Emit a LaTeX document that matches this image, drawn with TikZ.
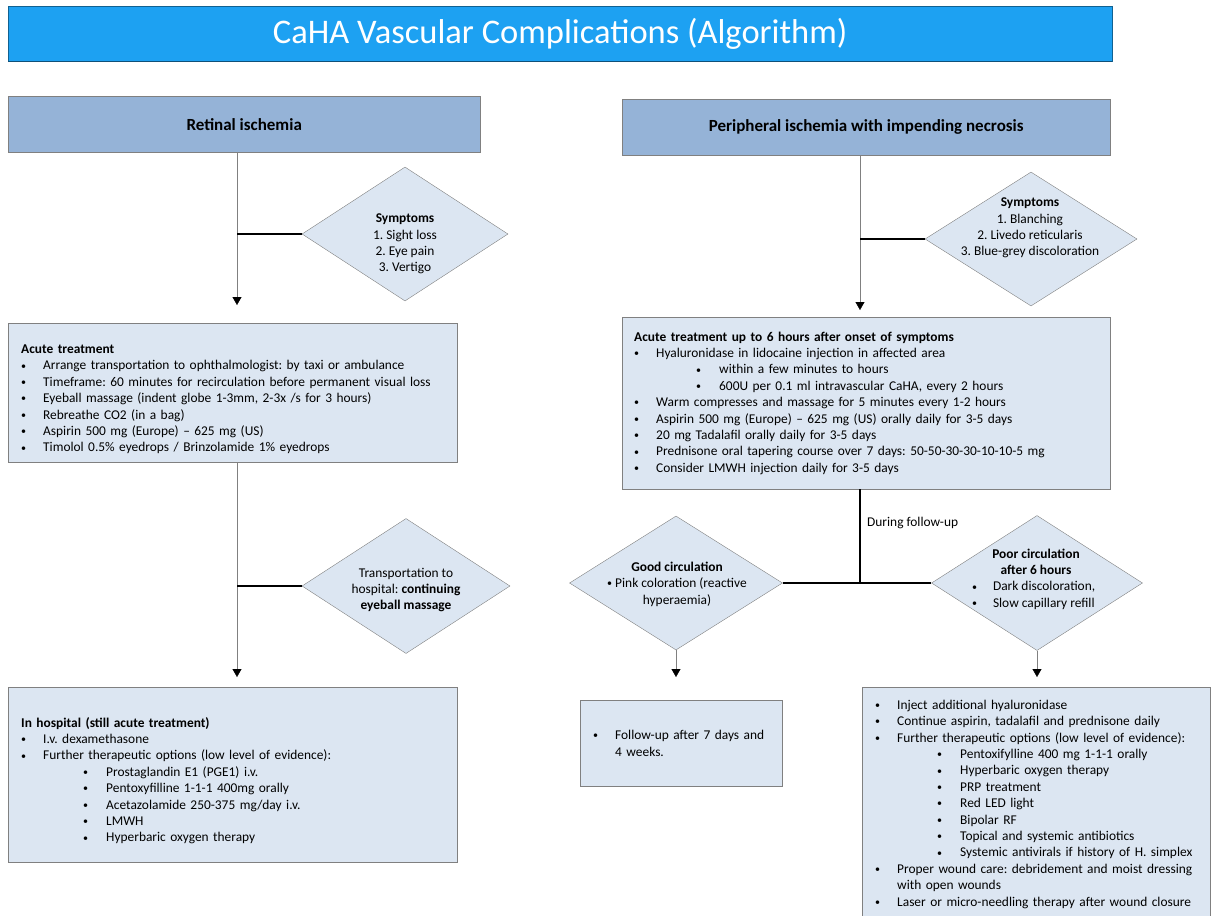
\documentclass[tikz,border=0pt]{standalone}
\usepackage{fontspec}
\setmainfont{Carlito}
\usepackage{tikz}
\usetikzlibrary{shapes.geometric}
\usetikzlibrary{arrows.meta}
\usetikzlibrary{positioning}
\frenchspacing

\definecolor{titleblue}{RGB}{29,161,242}
\definecolor{headblue}{RGB}{149,179,215}
\definecolor{paleblue}{RGB}{220,230,242}
\definecolor{rimgray}{RGB}{128,128,128}

\newcommand{\dotmark}{\raisebox{0.12ex}{\fontsize{10}{10}\selectfont\textbullet}}
\newcommand{\bul}{\makebox[22pt][l]{\dotmark}}
\newcommand{\subbul}{\hspace*{62pt}\makebox[23pt][l]{\dotmark}}

\tikzset{
  body/.style={font=\fontsize{13.4}{16.4}\selectfont},
  titlebar/.style={fill=titleblue, draw=titleblue!60!black, anchor=north west,
    text=white, font=\fontsize{34.5}{38}\selectfont},
  headbox/.style={draw=rimgray, fill=headblue, anchor=north west,
    minimum height=56pt, font=\bfseries\fontsize{17}{20}\selectfont},
  textbox/.style={draw=rimgray, fill=paleblue, anchor=north west,
    align=left, inner xsep=13pt, body},
  choice/.style={diamond, draw=rimgray, fill=paleblue, inner sep=0pt},
  choicetext/.style={align=center, inner sep=0pt, body},
  flow/.style={draw=gray, -{Triangle[width=9pt,length=8pt,black]}},
  spur/.style={draw=black, line width=1.3pt},
}

\begin{document}
\begin{tikzpicture}[x=1pt,y=-1pt]
  \useasboundingbox (0,0) rectangle (1211,916);

  % title
  \node[titlebar, minimum width=1104pt, minimum height=55pt] (title) at (8,6)
    {CaHA Vascular Complications (Algorithm)};
  \draw[titleblue!50!black, line width=1.5pt] (title.south west) -- (title.south east);

  % left column: retinal ischemia
  \coordinate (trunkL) at (237,0);
  \node[headbox, minimum width=472pt] (ret) at (8,96) {Retinal ischemia};
  \node[choice, minimum width=206pt, minimum height=134pt] (sym1) at (405,234) {};
  \node[choicetext] (sym1txt) at (405,244)
    {\textbf{Symptoms}\\1. Sight loss\\2. Eye pain\\3. Vertigo};
  \node[textbox, text width=423pt, minimum height=139pt] (acuteL) at (8,323)
    {\rule{0pt}{22pt}\textbf{Acute treatment}\\
     \bul Arrange transportation to ophthalmologist: by taxi or ambulance\\
     \bul Timeframe: 60 minutes for recirculation before permanent visual loss\\
     \bul Eyeball massage (indent globe 1-3mm, 2-3x /s for 3 hours)\\
     \bul Rebreathe CO2 (in a bag)\\
     \bul Aspirin 500 mg (Europe) -- 625 mg (US)\\
     \bul Timolol 0.5\% eyedrops / Brinzolamide 1\% eyedrops};
  \node[choice, minimum width=208pt, minimum height=135pt] (trans) at (406,586) {};
  \node[choicetext] (transtxt) at (406,590)
    {Transportation to\\hospital: \textbf{continuing}\\\textbf{eyeball massage}};
  \node[textbox, text width=423pt, minimum height=175pt] (hospL) at (8,687)
    {\rule{0pt}{22pt}\textbf{In hospital (still acute treatment)}\\
     \bul I.v. dexamethasone\\
     \bul Further therapeutic options (low level of evidence):\\
     \subbul Prostaglandin E1 (PGE1) i.v.\\
     \subbul Pentoxyfilline 1-1-1 400mg orally\\
     \subbul Acetazolamide 250-375 mg/day i.v.\\
     \subbul LMWH\\
     \subbul Hyperbaric oxygen therapy};

  \draw[flow] (ret.south -| trunkL) -- ([yshift=18pt]acuteL.north -| trunkL);
  \draw[spur] (sym1.west -| trunkL) -- (sym1.west);
  \draw[flow] (acuteL.south -| trunkL) -- ([yshift=10pt]hospL.north -| trunkL);
  \draw[spur] (trans.west -| trunkL) -- (trans.west);

  % right column: peripheral ischemia
  \coordinate (trunkR) at (860,0);
  \node[headbox, minimum width=488pt] (peri) at (622,99)
    {Peripheral ischemia with impending necrosis};
  \node[choice, minimum width=212pt, minimum height=134pt] (sym2) at (1031,239) {};
  \node[choicetext] (sym2txt) at (1030,228)
    {\textbf{Symptoms}\\1. Blanching\\2. Livedo reticularis\\3. Blue-grey discoloration};
  \node[textbox, inner xsep=12pt, text width=464pt, minimum height=172pt] (acuteR) at (622,317)
    {\textbf{Acute treatment up to 6 hours after onset of symptoms}\\
     \bul Hyaluronidase in lidocaine injection in affected area\\
     \subbul within a few minutes to hours\\
     \subbul 600U per 0.1 ml intravascular CaHA, every 2 hours\\
     \bul Warm compresses and massage for 5 minutes every 1-2 hours\\
     \bul Aspirin 500 mg (Europe) -- 625 mg (US) orally daily for 3-5 days\\
     \bul 20 mg Tadalafil orally daily for 3-5 days\\
     \bul Prednisone oral tapering course over 7 days: 50-50-30-30-10-10-5 mg\\
     \bul Consider LMWH injection daily for 3-5 days};
  \node[body, inner sep=0pt, anchor=west] (during) at (867,523) {During follow-up};
  \node[choice, minimum width=213pt, minimum height=134pt] (good) at (676,583) {};
  \node[choicetext] (goodtxt) at (677,584)
    {\textbf{Good circulation}\\\dotmark\ Pink coloration (reactive\\hyperaemia)};
  \node[choice, minimum width=211pt, minimum height=135pt] (poor) at (1037,583) {};
  \node[choicetext] (poortxt) at (1036,579)
    {\textbf{Poor circulation}\\\textbf{after 6 hours}\\
     \makebox[128pt][l]{\makebox[21pt][l]{\dotmark}Dark discoloration,}\\
     \makebox[128pt][l]{\makebox[21pt][l]{\dotmark}Slow capillary refill}};
  \node[textbox, inner xsep=13pt, text width=176pt, minimum height=86pt] (followbox) at (580,700)
    {\bul Follow-up after 7 days and\\\hspace*{22pt}4 weeks.};
  \node[textbox, text width=322pt, minimum height=234pt] (poorbox) at (862,687)
    {\bul Inject additional hyaluronidase\\
     \bul Continue aspirin, tadalafil and prednisone daily\\
     \bul Further therapeutic options (low level of evidence):\\
     \subbul Pentoxifylline 400 mg 1-1-1 orally\\
     \subbul Hyperbaric oxygen therapy\\
     \subbul PRP treatment\\
     \subbul Red LED light\\
     \subbul Bipolar RF\\
     \subbul Topical and systemic antibiotics\\
     \subbul Systemic antivirals if history of H. simplex\\
     \bul Proper wound care: debridement and moist dressing\\
     \hspace*{22pt}with open wounds\\
     \bul Laser or micro-needling therapy after wound closure};

  \draw[flow] (peri.south -| trunkR) -- ([yshift=7pt]acuteR.north -| trunkR);
  \draw[spur] (sym2.west -| trunkR) -- (sym2.west);
  \draw[spur] (acuteR.south -| trunkR) -- (good.east -| trunkR);
  \draw[spur] (good.east) -- (poor.west);
  \draw[flow] (good.south) -- ([yshift=23pt]followbox.north -| good.south);
  \draw[flow] (poor.south) -- ([yshift=10pt]poorbox.north -| poor.south);
\end{tikzpicture}
\end{document}
